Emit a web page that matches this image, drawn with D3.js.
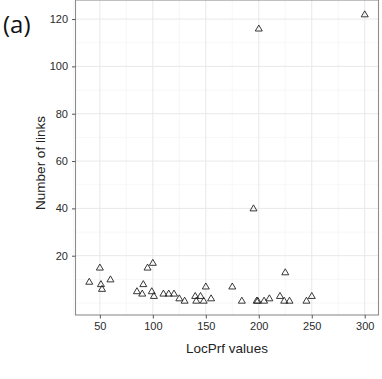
<!DOCTYPE html>
<html>
<head>
<meta charset="utf-8">
<script src="https://cdn.jsdelivr.net/npm/d3@7"></script>
<style>
  body { margin: 0; background: #fff; }
  svg { display: block; }
</style>
</head>
<body>
<svg id="svg"></svg>
<script>
// LocPrf value and number of links for each point
const locPrf = [40, 50, 51, 52, 60, 85, 90, 91, 95, 100, 99, 101, 110, 115, 120, 125, 130,
                140, 141, 145, 148, 150, 155, 175, 184, 198, 199, 205, 210, 220, 224, 225,
                229, 245, 250, 195, 200, 300];
const links  = [9, 15, 8, 6, 10, 5, 4, 8, 15, 17, 5, 3, 4, 4, 4, 2, 1,
                3, 1, 3, 1, 7, 2, 7, 1, 1, 1, 1, 2, 3, 1, 13,
                1, 1, 3, 40, 116, 122];

const xTicks = [50, 100, 150, 200, 250, 300];
const xMinor = [25, 75, 125, 175, 225, 275];
const yTicks = [20, 40, 60, 80, 100, 120];
const yMinor = [0, 10, 30, 50, 70, 90, 110];

const w = 382;
const h = 379;
const panelLeft = 75.5, panelRight = 378.5, panelTop = 0, panelBottom = 315;

let svg = d3.select("#svg")
  .attr("width", w)
  .attr("height", h);

// ggplot-style 5% expansion around the data range
let xScale = d3.scaleLinear().domain([27, 313]).range([panelLeft, panelRight]);
let yScale = d3.scaleLinear().domain([-5.05, 128.05]).range([panelBottom, panelTop]);

let grid = svg.append("g");

// minor grid
grid.selectAll(".xminor").data(xMinor).enter().append("line")
  .attr("x1", d => xScale(d)).attr("x2", d => xScale(d))
  .attr("y1", panelTop).attr("y2", panelBottom)
  .attr("stroke", "#f3f3f3").attr("stroke-width", 0.7);
grid.selectAll(".yminor").data(yMinor).enter().append("line")
  .attr("y1", d => yScale(d)).attr("y2", d => yScale(d))
  .attr("x1", panelLeft).attr("x2", panelRight)
  .attr("stroke", "#f3f3f3").attr("stroke-width", 0.7);

// major grid
grid.selectAll(".xmajor").data(xTicks).enter().append("line")
  .attr("x1", d => xScale(d)).attr("x2", d => xScale(d))
  .attr("y1", panelTop).attr("y2", panelBottom)
  .attr("stroke", "#e8e8e8").attr("stroke-width", 1);
grid.selectAll(".ymajor").data(yTicks).enter().append("line")
  .attr("y1", d => yScale(d)).attr("y2", d => yScale(d))
  .attr("x1", panelLeft).attr("x2", panelRight)
  .attr("stroke", "#e8e8e8").attr("stroke-width", 1);

// points: open triangles
const tri = "M0,-3.5L3.5,2.5L-3.5,2.5Z";
svg.selectAll(".pt")
  .data(locPrf.map((d, i) => ({ x: d, y: links[i] })))
  .enter()
  .append("path")
  .attr("class", "pt")
  .attr("d", tri)
  .attr("transform", d => "translate(" + xScale(d.x) + "," + yScale(d.y) + ")")
  .attr("fill", "none")
  .attr("stroke", "#222")
  .attr("stroke-width", 0.9);

// panel border
svg.append("rect")
  .attr("x", panelLeft).attr("y", panelTop)
  .attr("width", panelRight - panelLeft).attr("height", panelBottom - panelTop)
  .attr("fill", "none")
  .attr("stroke", "#8c8c8c")
  .attr("stroke-width", 1.1);

// axes
let xAxis = svg.append("g")
  .attr("transform", "translate(0," + panelBottom + ")")
  .call(d3.axisBottom(xScale).tickValues(xTicks).tickSize(3.5).tickPadding(4));
let yAxis = svg.append("g")
  .attr("transform", "translate(" + panelLeft + ",0)")
  .call(d3.axisLeft(yScale).tickValues(yTicks).tickSize(3.5).tickPadding(4));

[xAxis, yAxis].forEach(ax => {
  ax.select(".domain").remove();
  ax.selectAll("line").attr("stroke", "#555");
  ax.selectAll("text")
    .attr("fill", "#2b2b2b")
    .style("font-family", "'Liberation Sans', Arial, sans-serif")
    .style("font-size", "11px");
});

// axis titles
svg.append("text")
  .attr("x", (panelLeft + panelRight) / 2)
  .attr("y", 353)
  .attr("text-anchor", "middle")
  .style("font-family", "'Liberation Sans', Arial, sans-serif")
  .style("font-size", "13.5px")
  .attr("fill", "#222")
  .text("LocPrf values");

svg.append("text")
  .attr("transform", "translate(45,163) rotate(-90)")
  .attr("text-anchor", "middle")
  .style("font-family", "'Liberation Sans', Arial, sans-serif")
  .style("font-size", "13.5px")
  .attr("fill", "#222")
  .text("Number of links");

// panel label
svg.append("text")
  .attr("x", 3)
  .attr("y", 33)
  .style("font-family", "'Open Sans', sans-serif")
  .style("font-size", "24px")
  .attr("fill", "#111")
  .text("(a)");
</script>
</body>
</html>
